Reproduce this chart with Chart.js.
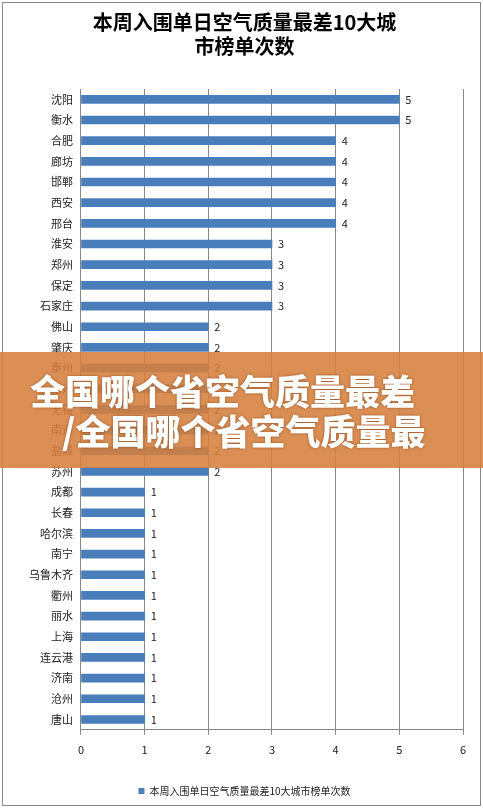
<!DOCTYPE html>
<html><head><meta charset="utf-8">
<script src="https://cdn.jsdelivr.net/npm/chart.js@4"></script>
<style>
body{margin:0;background:#fff;}
#wrap{position:absolute;left:2px;top:2px;width:477px;height:802px;border:1px solid #888;background:#fff;}
#c{position:absolute;left:0;top:0;}
#banner{position:absolute;left:0;top:352px;width:483px;height:116px;background:rgba(214,128,62,0.88);color:#fff;font-family:"Noto Sans CJK SC";font-weight:900;font-size:35px;line-height:40px;padding-top:18px;box-sizing:border-box;white-space:nowrap;overflow:hidden;text-shadow:0 0 3px rgba(120,60,20,0.7);}
</style></head><body>
<div id="wrap"></div>
<canvas id="c" width="483" height="808"></canvas>
<div id="banner"><div style="padding-left:30px">全国哪个省空气质量最差</div><div style="padding-left:62px">/全国哪个省空气质量最</div></div>
<script>
const cities=["沈阳","衡水","合肥","廊坊","邯郸","西安","邢台","淮安","郑州","保定","石家庄","佛山","肇庆","泰州","常州","无锡","南通","盐城","苏州","成都","长春","哈尔滨","南宁","乌鲁木齐","衢州","丽水","上海","连云港","济南","沧州","唐山"];
const counts=[5,5,4,4,4,4,4,3,3,3,3,2,2,2,2,2,2,2,2,1,1,1,1,1,1,1,1,1,1,1,1];
const seriesName="本周入围单日空气质量最差10大城市榜单次数";
const titleLines=["本周入围单日空气质量最差10大城","市榜单次数"];
const F='"Noto Sans CJK SC"';
const labelPlugin={id:'lbl',afterDatasetsDraw(ch){const ctx=ch.ctx;const m=ch.getDatasetMeta(0);ctx.save();ctx.font='11px '+F;ctx.fillStyle='#222';ctx.textBaseline='middle';m.data.forEach((b,i)=>{ctx.fillText(counts[i],b.x+6,b.y);});ctx.restore();}};
new Chart(document.getElementById('c'),{type:'bar',
data:{labels:cities,datasets:[{label:seriesName,data:counts,backgroundColor:'#4a7ebb',borderWidth:0,barThickness:8}]},
options:{indexAxis:'y',responsive:false,animation:false,
layout:{padding:{left:26,right:20,top:4,bottom:2}},
plugins:{title:{display:true,text:titleLines,font:{family:F,size:20,weight:'bold'},color:'#000',padding:{top:6,bottom:31},lineHeight:1.95},
legend:{position:'bottom',labels:{font:{family:F,size:10},color:'#222',boxWidth:6,boxHeight:6,padding:22}},tooltip:{enabled:false}},
scales:{x:{min:0,max:6,ticks:{stepSize:1,font:{family:F,size:11},color:'#222',padding:8},grid:{color:'#888',tickLength:5},border:{color:'#888'}},
y:{ticks:{font:{family:F,size:11},color:'#222',autoSkip:false},grid:{display:false,tickLength:5},border:{color:'#888'}}}},
plugins:[labelPlugin]});
</script></body></html>
